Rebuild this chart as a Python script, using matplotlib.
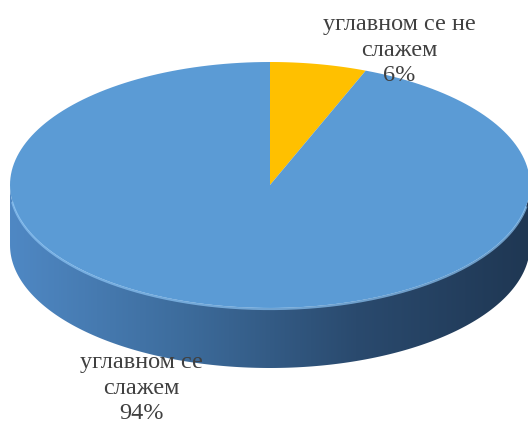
import numpy as np
import matplotlib.pyplot as plt
from matplotlib.patches import Polygon
from matplotlib.colors import LinearSegmentedColormap

# podaci (prva kriska pocinje od vrha, u smeru kazaljke)
kategorije = ["углавном се не слажем", "углавном се слажем"]
procenti = [6, 94]
boje = ["#FFC000", "#5B9BD5"]

# geometrija elipse (pikseli)
cx, cy = 270, 185
a, b = 260, 123
dubina = 60

fig = plt.figure(figsize=(5.28, 4.25), dpi=100)
ax = fig.add_axes([0, 0, 1, 1])
ax.set_xlim(0, 528)
ax.set_ylim(425, 0)
ax.axis("off")


def tacke(t0, t1, dy=0, n=200):
    # ugao se meri od vrha, u smeru kazaljke
    t = np.radians(np.linspace(t0, t1, n))
    return np.column_stack([cx + a * np.sin(t), cy - b * np.cos(t) + dy])


# bocna strana (vidljivi prednji deo)
gornja = tacke(90, 270)
donja = tacke(90, 270, dubina)[::-1]
strana = Polygon(np.vstack([gornja, donja]), closed=True, facecolor="none", edgecolor="none")
ax.add_patch(strana)
cmap = LinearSegmentedColormap.from_list("strana", ["#1f3753", "#2a4a6e", "#3d6c9c", "#4f88c4"])
grad = np.linspace(0, 1, 256).reshape(1, -1)
slika = ax.imshow(grad, cmap=cmap, extent=[cx + a, cx - a, cy + b + dubina, cy], aspect="auto", zorder=1)
slika.set_clip_path(strana)

# gornja povrsina - kriske
ugao = 0
for p, boja in zip(procenti, boje):
    kraj = ugao + p / sum(procenti) * 360
    luk = tacke(ugao, kraj)
    ax.add_patch(Polygon(np.vstack([[cx, cy], luk]), closed=True, facecolor=boja, edgecolor="none", zorder=2))
    ugao = kraj

# svetla ivica na prednjem rubu
ivica = tacke(100, 262)
ax.plot(ivica[:, 0], ivica[:, 1] + 1, color="#8cc4f4", lw=1.6, alpha=0.7, zorder=3)

# natpisi
font = dict(family=["Liberation Serif", "DejaVu Serif"], fontsize=17.5, color="#404040", ha="center", va="center",
            linespacing=1.28, zorder=5)
ax.text(399, 50, "углавном се не\nслажем\n" + str(procenti[0]) + "%", **font)
ax.text(141, 388, "углавном се\nслажем\n" + str(procenti[1]) + "%", **font)

fig.savefig("out.png", dpi=100)
